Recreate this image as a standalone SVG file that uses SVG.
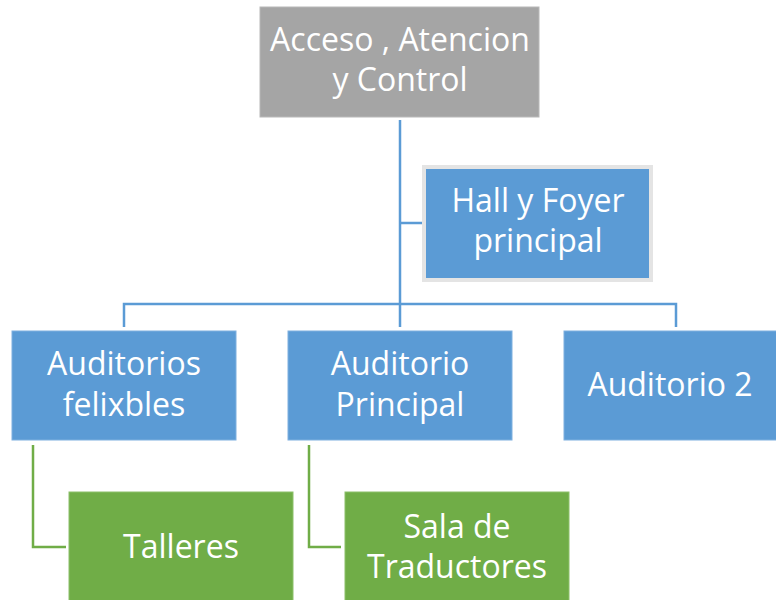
<svg xmlns="http://www.w3.org/2000/svg" width="776" height="600" viewBox="0 0 776 600">
<style>
text{font-family:"Open Sans","Liberation Sans",sans-serif;font-size:32px;fill:#ffffff;text-anchor:middle}
.blue{fill:#5b9bd5;stroke:#7fb0df;stroke-width:1}
.green{fill:#70ad47;stroke:#8cc06a;stroke-width:1}
.cb{fill:none;stroke:#5b9bd5;stroke-width:2.5}
.cg{fill:none;stroke:#70ad47;stroke-width:2.5}
</style>
<rect width="776" height="600" fill="#ffffff"/>
<g id="connectors">
<path class="cb" d="M400 120 V327"/>
<path class="cb" d="M400 223 H424"/>
<path class="cb" d="M124 327 V304 H676 V327"/>
<path class="cg" d="M33 445 V547 H66"/>
<path class="cg" d="M309 445 V547 H341"/>
</g>
<g id="acceso">
<rect x="260" y="7" width="279" height="110" fill="#a5a5a5" stroke="#b8b8b8" stroke-width="1"/>
<text x="400" y="51">Acceso , Atencion</text>
<text x="400" y="91">y Control</text>
</g>
<g id="hall">
<rect x="424" y="167" width="227" height="113" fill="#5b9bd5" stroke="#e4e4e4" stroke-width="4"/>
<text x="538" y="212">Hall y Foyer</text>
<text x="538" y="252">principal</text>
</g>
<g id="flexibles">
<rect class="blue" x="12" y="331" width="224" height="109"/>
<text x="124" y="375">Auditorios</text>
<text x="124" y="416">felixbles</text>
</g>
<g id="principal">
<rect class="blue" x="288" y="331" width="224" height="109"/>
<text x="400" y="375">Auditorio</text>
<text x="400" y="416">Principal</text>
</g>
<g id="auditorio2">
<rect class="blue" x="564" y="331" width="224" height="109"/>
<text x="670" y="396">Auditorio 2</text>
</g>
<g id="talleres">
<rect class="green" x="69" y="492" width="224" height="120"/>
<text x="181" y="558">Talleres</text>
</g>
<g id="traductores">
<rect class="green" x="345" y="492" width="224" height="120"/>
<text x="457" y="538">Sala de</text>
<text x="457" y="578">Traductores</text>
</g>
</svg>
